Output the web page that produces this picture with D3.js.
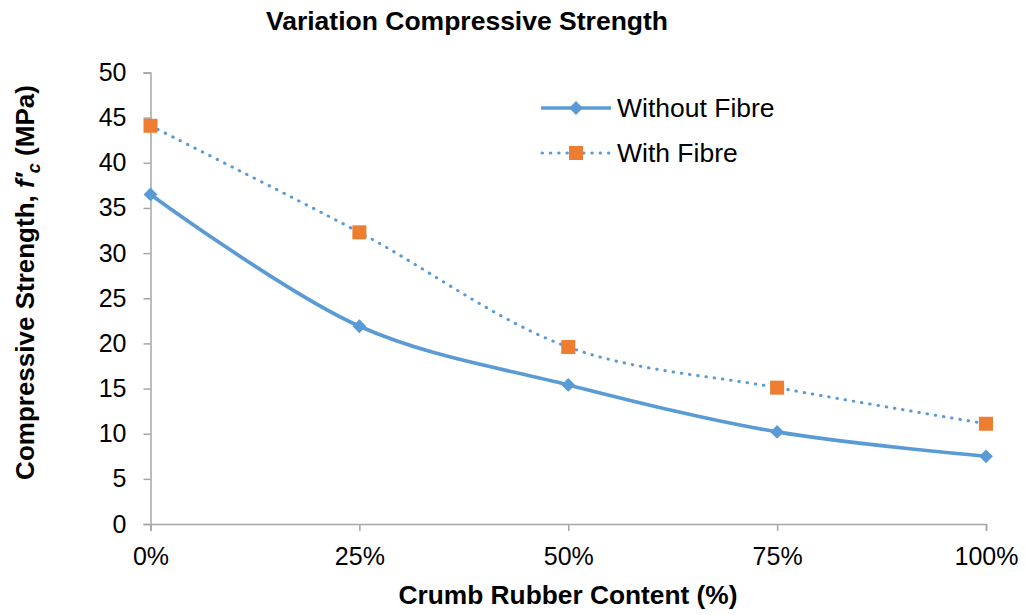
<!DOCTYPE html>
<html>
<head>
<meta charset="utf-8">
<script src="https://cdn.jsdelivr.net/npm/d3@7"></script>
<style>
  body { margin: 0; background: #fff; }
  text { font-family: "Liberation Sans", Arial, sans-serif; fill: #000; }
</style>
</head>
<body>
<svg id="chart" width="1025" height="615"></svg>
<script>
// data
const categories = ["0%", "25%", "50%", "75%", "100%"];
const withoutFibre = [36.5, 21.9, 15.4, 10.2, 7.5];
const withFibre = [44.1, 32.3, 19.6, 15.1, 11.1];
const yTicks = [0, 5, 10, 15, 20, 25, 30, 35, 40, 45, 50];

const blue = "#5B9BD5";
const orange = "#ED7D31";

const svg = d3.select("#chart");

const x = d3.scalePoint()
  .domain(categories)
  .range([150.5, 986]);

const y = d3.scaleLinear()
  .domain([0, 50])
  .range([524, 72.5]);

// axes
const yAxis = svg.append("g")
  .attr("transform", "translate(150.5,0)")
  .call(d3.axisLeft(y).tickValues(yTicks).tickSize(7).tickPadding(17));
yAxis.selectAll("text").style("font-size", "25px");

const xAxis = svg.append("g")
  .attr("transform", "translate(0,524)")
  .call(d3.axisBottom(x).tickSize(7).tickSizeOuter(7).tickPadding(16));
xAxis.selectAll("text").style("font-size", "25px");

svg.selectAll(".domain, .tick line")
  .attr("stroke", "#a6a6a6")
  .attr("stroke-width", 1.5);

// lines
const line = d3.line()
  .x((d, i) => x(categories[i]))
  .y(d => y(d))
  .curve(d3.curveCatmullRom.alpha(0.5));

svg.append("path")
  .datum(withFibre)
  .attr("d", line)
  .attr("fill", "none")
  .attr("stroke", blue)
  .attr("stroke-width", 3)
  .attr("stroke-linecap", "round")
  .attr("stroke-dasharray", "0.5 7.8");

svg.append("path")
  .datum(withoutFibre)
  .attr("d", line)
  .attr("fill", "none")
  .attr("stroke", blue)
  .attr("stroke-width", 3.7);

// markers
const diamond = d3.symbol().type(d3.symbolSquare).size(95);

svg.selectAll(".dia")
  .data(withoutFibre)
  .enter()
  .append("path")
  .attr("class", "dia")
  .attr("d", diamond)
  .attr("transform", (d, i) => `translate(${x(categories[i])},${y(d)}) rotate(45)`)
  .attr("fill", blue);

svg.selectAll(".sq")
  .data(withFibre)
  .enter()
  .append("rect")
  .attr("class", "sq")
  .attr("x", (d, i) => x(categories[i]) - 7)
  .attr("y", d => y(d) - 7)
  .attr("width", 14)
  .attr("height", 14)
  .attr("fill", orange);

// legend
const legend = svg.append("g");
legend.append("line")
  .attr("x1", 541).attr("x2", 611).attr("y1", 108).attr("y2", 108)
  .attr("stroke", blue).attr("stroke-width", 3.7);
legend.append("path")
  .attr("d", diamond)
  .attr("transform", "translate(576,108) rotate(45)")
  .attr("fill", blue);
legend.append("text")
  .attr("x", 617).attr("y", 116.5)
  .style("font-size", "26.5px")
  .text("Without Fibre");

legend.append("line")
  .attr("x1", 542).attr("x2", 610).attr("y1", 153).attr("y2", 153)
  .attr("stroke", blue).attr("stroke-width", 3)
  .attr("stroke-linecap", "round")
  .attr("stroke-dasharray", "0.5 7.8");
legend.append("rect")
  .attr("x", 569).attr("y", 146).attr("width", 14).attr("height", 14)
  .attr("fill", orange);
legend.append("text")
  .attr("x", 617).attr("y", 161.5)
  .style("font-size", "26.5px")
  .text("With Fibre");

// titles
svg.append("text")
  .attr("x", 467).attr("y", 30)
  .attr("text-anchor", "middle")
  .style("font-size", "26.5px")
  .style("font-weight", "bold")
  .text("Variation Compressive Strength");

svg.append("text")
  .attr("x", 568).attr("y", 604)
  .attr("text-anchor", "middle")
  .style("font-size", "26.3px")
  .style("font-weight", "bold")
  .text("Crumb Rubber Content (%)");

const yTitle = svg.append("text")
  .attr("transform", "translate(34,282.5) rotate(-90)")
  .attr("text-anchor", "middle")
  .style("font-size", "26px")
  .style("font-weight", "bold");
yTitle.append("tspan").text("Compressive Strength, ");
yTitle.append("tspan").style("font-style", "italic").text("f′");
yTitle.append("tspan").attr("dy", 6).style("font-size", "18px").style("font-style", "italic").text("c");
yTitle.append("tspan").attr("dy", -6).text(" (MPa)");
</script>
</body>
</html>
